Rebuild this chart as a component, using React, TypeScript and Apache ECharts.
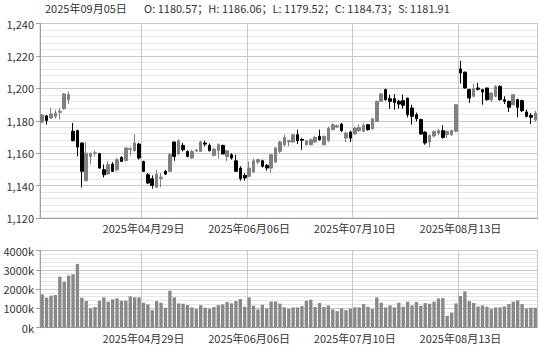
import React, { useEffect, useRef } from 'react';
import * as echarts from 'echarts';

const dates = [
  '2025-03-26', '2025-03-27', '2025-03-28', '2025-03-31',
  '2025-04-01', '2025-04-02', '2025-04-03', '2025-04-07', '2025-04-08', '2025-04-09', '2025-04-10', '2025-04-11',
  '2025-04-14', '2025-04-15', '2025-04-16', '2025-04-17', '2025-04-18',
  '2025-04-21', '2025-04-22', '2025-04-23', '2025-04-24', '2025-04-25',
  '2025-04-28', '2025-04-29', '2025-04-30',
  '2025-05-06', '2025-05-07', '2025-05-08', '2025-05-09',
  '2025-05-12', '2025-05-13', '2025-05-14', '2025-05-15', '2025-05-16',
  '2025-05-19', '2025-05-20', '2025-05-21', '2025-05-22', '2025-05-23',
  '2025-05-26', '2025-05-27', '2025-05-28', '2025-05-29', '2025-05-30',
  '2025-06-03', '2025-06-04', '2025-06-05', '2025-06-06',
  '2025-06-09', '2025-06-10', '2025-06-11', '2025-06-12', '2025-06-13',
  '2025-06-16', '2025-06-17', '2025-06-18', '2025-06-19', '2025-06-20',
  '2025-06-23', '2025-06-24', '2025-06-25', '2025-06-26', '2025-06-27',
  '2025-06-30', '2025-07-01', '2025-07-02', '2025-07-03', '2025-07-04',
  '2025-07-07', '2025-07-08', '2025-07-09', '2025-07-10', '2025-07-11',
  '2025-07-14', '2025-07-15', '2025-07-16', '2025-07-17', '2025-07-18',
  '2025-07-21', '2025-07-22', '2025-07-23', '2025-07-24', '2025-07-25',
  '2025-07-28', '2025-07-29', '2025-07-30', '2025-07-31', '2025-08-01',
  '2025-08-04', '2025-08-05', '2025-08-06', '2025-08-07', '2025-08-08',
  '2025-08-11', '2025-08-12', '2025-08-13', '2025-08-14', '2025-08-15',
  '2025-08-18', '2025-08-19', '2025-08-20', '2025-08-21', '2025-08-22',
  '2025-08-25', '2025-08-26', '2025-08-27', '2025-08-28', '2025-08-29',
  '2025-09-01', '2025-09-02', '2025-09-03', '2025-09-04', '2025-09-05',
];

const opens = [
  1179.2, 1183.0, 1181.7, 1182.7, 1185.2, 1187.4, 1193.0, 1173.5, 1173.9, 1166.3,
  1143.0, 1158.0, 1159.8, 1159.7, 1149.8, 1147.1, 1153.3, 1149.8, 1157.4, 1155.4,
  1162.3, 1161.5, 1165.6, 1154.9, 1146.7, 1144.2, 1138.9, 1144.3, 1148.8, 1148.8,
  1166.9, 1159.5, 1164.8, 1161.1, 1157.0, 1161.3, 1161.1, 1166.3, 1164.8, 1158.6,
  1161.5, 1164.8, 1158.0, 1159.0, 1155.3, 1150.8, 1146.3, 1145.7, 1148.4, 1154.5,
  1155.3, 1152.5, 1150.8, 1154.5, 1161.1, 1165.2, 1166.9, 1166.9, 1171.4, 1168.5,
  1165.2, 1165.2, 1166.9, 1170.4, 1165.2, 1167.7, 1174.5, 1176.1, 1178.0, 1169.3,
  1173.0, 1171.8, 1173.9, 1173.5, 1177.6, 1175.1, 1179.6, 1192.0, 1199.2, 1193.6,
  1193.6, 1192.0, 1192.4, 1194.0, 1187.9, 1183.7, 1180.7, 1173.0, 1166.9, 1170.6,
  1172.4, 1173.9, 1171.4, 1171.4, 1173.5, 1212.0, 1210.0, 1199.2, 1195.1, 1200.2,
  1199.2, 1200.2, 1193.0, 1195.1, 1201.2, 1193.0, 1192.0, 1189.9, 1193.0, 1192.4,
  1185.4, 1183.3, 1180.57,
];

const highs = [
  1184.2, 1183.5, 1187.9, 1186.8, 1187.9, 1197.1, 1198.1, 1178.6, 1174.5, 1166.5,
  1166.9, 1160.3, 1161.7, 1160.2, 1153.0, 1155.0, 1154.5, 1157.0, 1158.0, 1163.6,
  1163.6, 1171.8, 1166.3, 1155.3, 1147.7, 1146.3, 1149.8, 1147.7, 1149.6, 1160.1,
  1167.0, 1168.5, 1166.3, 1161.7, 1162.1, 1162.7, 1167.7, 1167.7, 1166.0, 1163.2,
  1166.0, 1165.2, 1162.1, 1160.0, 1159.0, 1151.9, 1147.7, 1154.9, 1156.6, 1156.6,
  1156.0, 1153.3, 1159.5, 1163.6, 1167.7, 1171.4, 1168.3, 1171.8, 1174.5, 1169.3,
  1168.3, 1169.0, 1170.4, 1174.5, 1170.8, 1176.5, 1178.6, 1177.6, 1178.6, 1173.0,
  1173.9, 1176.5, 1177.6, 1178.6, 1178.0, 1181.7, 1192.4, 1197.1, 1199.8, 1196.1,
  1196.5, 1193.0, 1196.1, 1194.0, 1189.9, 1185.0, 1181.3, 1173.5, 1171.4, 1174.0,
  1175.1, 1177.2, 1173.9, 1174.5, 1190.3, 1217.0, 1210.2, 1199.8, 1202.7, 1203.3,
  1199.4, 1200.4, 1197.7, 1201.9, 1201.9, 1195.1, 1192.4, 1196.5, 1193.6, 1193.0,
  1186.8, 1184.8, 1186.06,
];

const lows = [
  1178.5, 1177.6, 1181.0, 1181.3, 1180.7, 1186.8, 1190.3, 1167.3, 1158.0, 1138.9,
  1142.6, 1153.0, 1158.0, 1150.4, 1145.0, 1146.7, 1148.4, 1148.8, 1154.5, 1155.0,
  1158.6, 1161.0, 1156.0, 1148.4, 1141.0, 1138.1, 1138.5, 1138.9, 1146.5, 1148.4,
  1155.3, 1159.0, 1161.1, 1157.4, 1156.6, 1160.7, 1160.7, 1164.2, 1161.1, 1158.0,
  1156.6, 1159.1, 1155.0, 1156.0, 1148.4, 1143.0, 1143.0, 1145.1, 1147.7, 1153.3,
  1151.2, 1149.2, 1147.7, 1153.9, 1160.1, 1164.2, 1164.2, 1166.3, 1165.6, 1162.1,
  1164.8, 1164.8, 1166.3, 1167.7, 1164.8, 1166.9, 1174.0, 1175.5, 1173.0, 1166.9,
  1166.9, 1171.4, 1173.0, 1173.0, 1173.9, 1174.5, 1179.2, 1191.6, 1192.4, 1187.4,
  1186.8, 1187.4, 1187.4, 1182.1, 1177.6, 1179.6, 1171.4, 1165.2, 1163.6, 1169.9,
  1171.0, 1168.9, 1169.3, 1170.4, 1173.0, 1203.0, 1199.8, 1191.0, 1194.4, 1198.6,
  1189.9, 1192.4, 1191.6, 1194.4, 1192.4, 1190.3, 1185.4, 1189.5, 1182.1, 1185.4,
  1182.1, 1178.0, 1179.52,
];

const closes = [
  1183.5, 1180.2, 1184.2, 1184.8, 1185.8, 1196.5, 1196.1, 1167.7, 1163.8, 1148.8,
  1160.0, 1160.0, 1160.2, 1150.8, 1146.7, 1152.9, 1148.8, 1156.0, 1155.0, 1163.2,
  1162.8, 1166.3, 1157.0, 1148.8, 1141.6, 1140.1, 1147.1, 1145.2, 1147.1, 1159.1,
  1158.0, 1167.7, 1162.1, 1158.0, 1161.1, 1161.9, 1166.9, 1165.6, 1161.5, 1162.5,
  1165.2, 1159.5, 1161.5, 1157.0, 1148.8, 1144.2, 1144.7, 1150.8, 1155.3, 1156.0,
  1151.9, 1150.8, 1159.1, 1163.2, 1166.9, 1169.7, 1167.7, 1171.4, 1167.7, 1168.0,
  1167.7, 1168.3, 1169.7, 1168.3, 1170.4, 1175.5, 1177.6, 1176.9, 1173.9, 1172.4,
  1169.3, 1175.5, 1175.9, 1177.2, 1174.5, 1181.3, 1192.0, 1196.5, 1193.0, 1192.0,
  1191.2, 1190.3, 1189.5, 1183.7, 1182.7, 1181.3, 1171.8, 1166.3, 1171.0, 1173.4,
  1173.9, 1169.7, 1173.5, 1173.9, 1189.9, 1209.5, 1200.2, 1194.0, 1199.8, 1199.4,
  1197.7, 1193.0, 1197.1, 1201.2, 1193.0, 1192.0, 1188.3, 1196.1, 1188.3, 1186.2,
  1182.7, 1182.1, 1184.73,
];

// volume in thousands
const volumes = [
  1722, 1548, 1652, 1687, 2643, 2383, 2696, 2765, 3304, 1548,
  1374, 991, 1061, 1391, 1565, 1339, 1461, 1513, 1391, 1391,
  1617, 1565, 1565, 1287, 1200, 904, 1374, 1287, 1026, 1913,
  1565, 1252, 1235, 1165, 1043, 957, 1165, 1026, 974, 1061,
  1165, 1200, 1322, 1252, 1374, 1478, 1078, 1565, 1130, 939,
  1183, 991, 1350, 1350, 1240, 1050, 960, 1043, 1043, 1113,
  1391, 1443, 1061, 1270, 1061, 1148, 939, 852, 991, 904,
  974, 1043, 1043, 1217, 1078, 957, 1565, 1287, 1043, 1148,
  1043, 1287, 1078, 1339, 1148, 1322, 1130, 1270, 1235, 1339,
  1513, 1530, 609, 765, 1252, 1635, 1878, 1374, 1270, 1096,
  1148, 1078, 957, 1043, 1043, 1096, 1217, 1339, 1409, 1217,
  991, 1026, 1026,
];

const labelDates = ['2025-04-29', '2025-06-06', '2025-07-10', '2025-08-13'];
const lastSettle = 1181.91;

const priceMin = 1120;
const priceMax = 1240;
const priceStep = 20;
const volMin = 0;
const volMax = 4000;
const volStep = 1000;

const FONT = '"Noto Sans CJK SC", "Noto Sans", sans-serif';
const UP = '#808080';
const DOWN = '#000000';
const MAJOR = '#c8c8c8';
const MINOR = '#e6e6e6';
const AXIS = '#a0a0a0';
const TEXT = '#333333';

function fmtDate(d: string): string {
  const [y, m, dd] = d.split('-');
  return `${y}年${m}月${dd}日`;
}

export default function App() {
  const ref = useRef<HTMLDivElement>(null);

  useEffect(() => {
    if (!ref.current) return;
    const chart = echarts.init(ref.current, null, { renderer: 'svg' });
    const showAt = (i: number) => labelDates.includes(dates[i]);
    const last = dates.length - 1;

    const xAxisFor = (gridIndex: number, margin: number) => ({
      type: 'category',
      gridIndex,
      data: dates,
      boundaryGap: true,
      axisLine: { show: true, lineStyle: { color: AXIS } },
      axisTick: { show: false },
      axisLabel: {
        interval: (i: number) => showAt(i),
        formatter: (v: string) => fmtDate(v),
        color: TEXT,
        fontSize: 11,
        fontFamily: FONT,
        margin,
      },
      splitLine: {
        show: true,
        interval: (i: number) => showAt(i),
        lineStyle: { color: MAJOR, width: 1 },
      },
    });

    const yAxisFor = (
      gridIndex: number,
      min: number,
      max: number,
      step: number,
      formatter: (v: number) => string
    ) => ({
      type: 'value',
      gridIndex,
      min,
      max,
      interval: step,
      axisLine: { show: true, lineStyle: { color: AXIS } },
      axisTick: { show: true, length: 4, lineStyle: { color: AXIS } },
      axisLabel: { color: TEXT, fontSize: 11, fontFamily: FONT, margin: 6, formatter },
      splitLine: { show: true, lineStyle: { color: MAJOR, width: 1 } },
      minorTick: { show: false, splitNumber: 5 },
      minorSplitLine: { show: true, lineStyle: { color: MINOR, width: 1 } },
    });

    const header =
      `O: ${opens[last].toFixed(2)}；H: ${highs[last].toFixed(2)}；` +
      `L: ${lows[last].toFixed(2)}；C: ${closes[last].toFixed(2)}；S: ${lastSettle.toFixed(2)}`;

    chart.setOption({
      animation: false,
      backgroundColor: '#ffffff',
      textStyle: { fontFamily: FONT },
      graphic: [
        {
          type: 'text',
          left: 45,
          top: 2,
          style: { text: fmtDate(dates[last]), fill: TEXT, fontSize: 11, fontFamily: FONT },
        },
        {
          type: 'text',
          left: 144,
          top: 2,
          style: { text: header, fill: TEXT, fontSize: 11, fontFamily: FONT },
        },
      ],
      grid: [
        { left: 40, right: 2.5, top: 23.5, height: 194.5, show: true, borderColor: MAJOR, borderWidth: 1 },
        { left: 40, right: 2.5, top: 250.5, height: 77, show: true, borderColor: MAJOR, borderWidth: 1 },
      ],
      xAxis: [xAxisFor(0, 4), xAxisFor(1, 5)],
      yAxis: [
        yAxisFor(0, priceMin, priceMax, priceStep, (v: number) => v.toLocaleString('en-US')),
        yAxisFor(1, volMin, volMax, volStep, (v: number) => `${v}k`),
      ],
      series: [
        {
          type: 'candlestick',
          xAxisIndex: 0,
          yAxisIndex: 0,
          barWidth: '70%',
          data: dates.map((_, i) => [opens[i], closes[i], lows[i], highs[i]]),
          itemStyle: {
            color: UP,
            color0: DOWN,
            borderColor: UP,
            borderColor0: DOWN,
            borderWidth: 1,
          },
        },
        {
          type: 'bar',
          xAxisIndex: 1,
          yAxisIndex: 1,
          barWidth: '76%',
          data: volumes,
          itemStyle: { color: '#888888' },
        },
      ],
    });
    return () => chart.dispose();
  }, []);

  return (
    <div
      ref={ref}
      style={{ position: 'absolute', left: 0, top: 0, width: 540, height: 346 }}
    />
  );
}
